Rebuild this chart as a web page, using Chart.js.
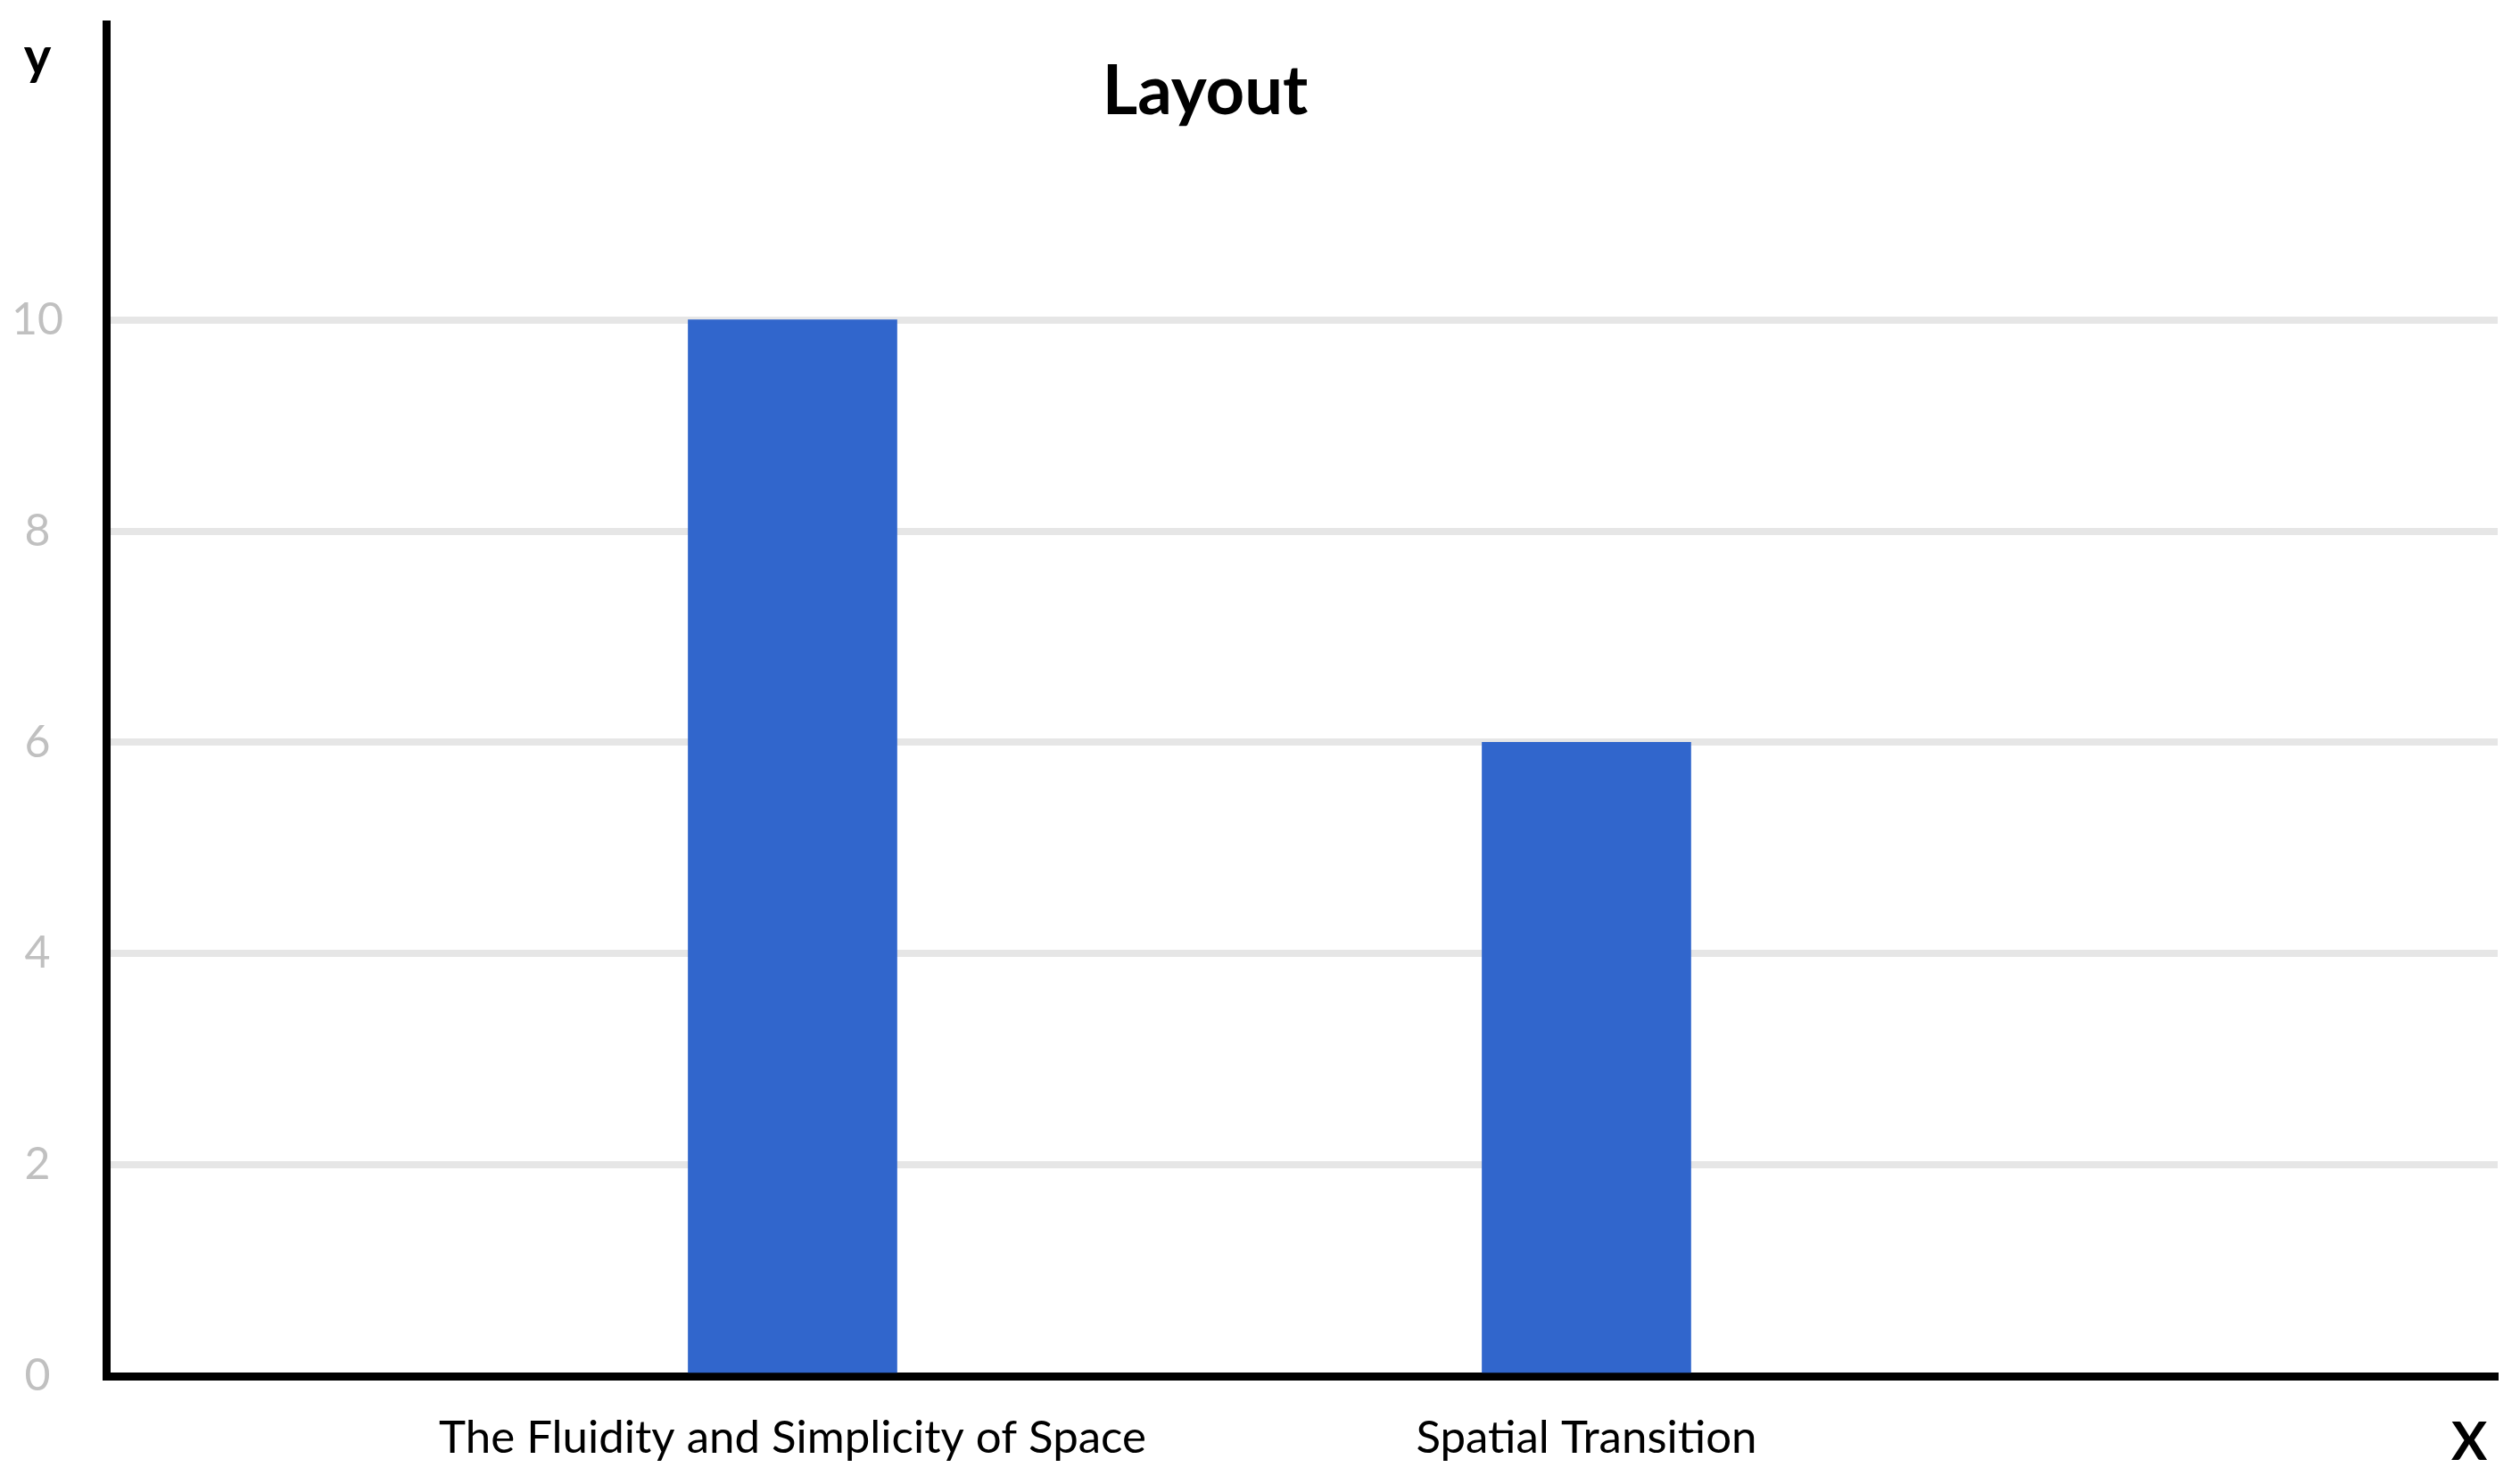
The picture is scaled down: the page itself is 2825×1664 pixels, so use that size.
<!DOCTYPE html>
<html><head><meta charset="utf-8">
<script src="https://cdn.jsdelivr.net/npm/chart.js@4.4.1/dist/chart.umd.min.js"></script>
<style>html,body{margin:0;padding:0;background:#fff;overflow:hidden}</style>
</head><body>
<canvas id="c" width="2825" height="1664"></canvas>
<script>
const categories = ["The Fluidity and Simplicity of Space", "Spatial Transition"];
const values = [10, 6];
const yTicks = [0, 2, 4, 6, 8, 10];
const chartTitle = "Layout";
const xAxisName = "X";
const yAxisName = "y";

const positions = categories.map((c, i) => i + 1);

const textPlugin = {
  id: 'texts',
  afterDraw(chart) {
    const ctx = chart.ctx;
    ctx.save();
    ctx.fillStyle = '#000';
    ctx.textAlign = 'center';
    ctx.textBaseline = 'alphabetic';
    ctx.font = 'bold 76px Lato';
    ctx.fillText(chartTitle, 1351, 128);
    ctx.font = 'bold 58px Lato';
    ctx.fillText(yAxisName, 42, 83);
    ctx.font = 'bold 60px Lato';
    ctx.fillText(xAxisName, 2768, 1637);
    ctx.restore();
  }
};

new Chart(document.getElementById('c'), {
  type: 'bar',
  data: {
    datasets: [{
      data: positions.map((p, i) => ({ x: p, y: values[i] })),
      backgroundColor: '#3166cc',
      borderWidth: 0,
      barThickness: 234
    }]
  },
  options: {
    responsive: false,
    animation: false,
    devicePixelRatio: 1,
    layout: { padding: { left: 0, right: 25, top: 27, bottom: 0 } },
    plugins: { legend: { display: false }, title: { display: false }, tooltip: { enabled: false } },
    scales: {
      x: {
        type: 'linear',
        offset: false,
        min: 0.1354,
        max: 3.1478,
        afterBuildTicks(scale) { scale.ticks = positions.map(v => ({ value: v })); },
        afterFit(scale) { scale.height = 121; scale.paddingLeft = 0; scale.paddingRight = 0; },
        grid: { display: false, drawTicks: false, offset: false },
        border: { display: true, color: '#000', width: 9 },
        ticks: {
          autoSkip: false,
          maxRotation: 0,
          padding: 39,
          color: '#000',
          font: { family: 'Lato', size: 51, lineHeight: 1.2 },
          callback: (v) => categories[positions.indexOf(v)] ?? ''
        }
      },
      y: {
        min: 0,
        max: 12.8,
        afterBuildTicks(scale) { scale.ticks = yTicks.map(v => ({ value: v })); },
        afterFit(scale) { scale.width = 119; scale.paddingTop = 0; scale.paddingBottom = 0; },
        grid: { color: '#e6e6e6', lineWidth: 8, drawTicks: false },
        border: { display: true, color: '#000', width: 9 },
        ticks: {
          padding: 48,
          crossAlign: 'center',
          color: '#c0c0c0',
          font: { family: 'Lato', size: 50, lineHeight: 1 },
          callback: (v) => String(v)
        }
      }
    }
  },
  plugins: [textPlugin]
});
</script>
</body></html>
